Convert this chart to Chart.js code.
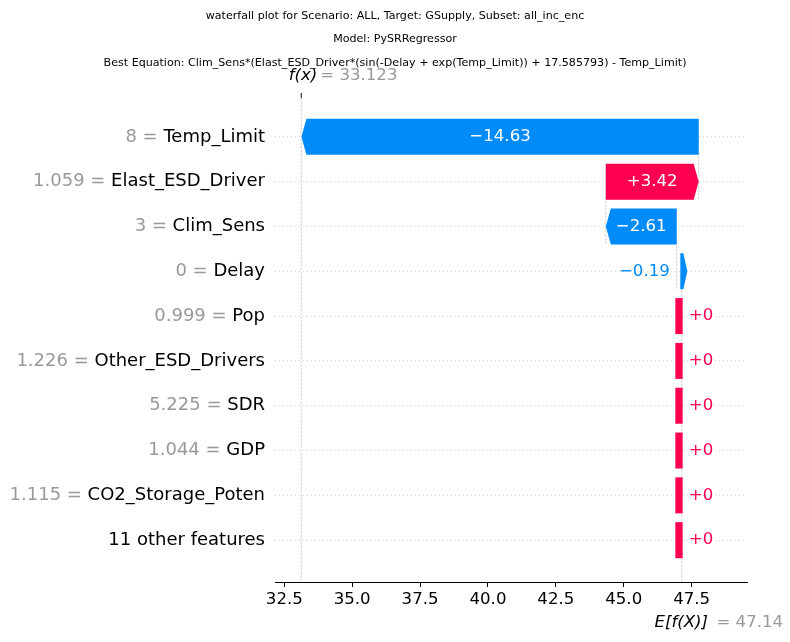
<!DOCTYPE html>
<html>
<head>
<meta charset="utf-8">
<script src="https://cdn.jsdelivr.net/npm/chart.js@4.4.1/dist/chart.umd.min.js"></script>
<style>
  html, body { margin: 0; padding: 0; background: #fff; }
  #wrap { width: 790px; height: 642px; }
</style>
</head>
<body>
<div id="wrap"><canvas id="chart" width="790" height="642"></canvas></div>
<script>
// waterfall rows, top row first
const features = ['Temp_Limit', 'Elast_ESD_Driver', 'Clim_Sens', 'Delay', 'Pop',
  'Other_ESD_Drivers', 'SDR', 'GDP', 'CO2_Storage_Poten', '11 other features'];
const featureValues = ['8', '1.059', '3', '0', '0.999', '1.226', '5.225', '1.044', '1.115', ''];
const shapValues = [-14.63, 3.42, -2.61, -0.19, 0, 0, 0, 0, 0, 0];
const baseValue = 47.14;
const fxValue = 33.123;
const xTicks = [32.5, 35.0, 37.5, 40.0, 42.5, 45.0, 47.5];
const titleLines = [
  'waterfall plot for Scenario: ALL, Target: GSupply, Subset: all_inc_enc',
  'Model: PySRRegressor',
  'Best Equation: Clim_Sens*(Elast_ESD_Driver*(sin(-Delay + exp(Temp_Limit)) + 17.585793) - Temp_Limit)'
];

const RED = '#ff0051';
const BLUE = '#008bfb';
const GRAY = '#999999';
const FONT = '"DejaVu Sans", sans-serif';
const nRows = features.length;
const HEAD = 5;

// floating bars, built upward from the base value
const bars = [];
let loc = baseValue;
for (let i = nRows - 1; i >= 0; i--) {
  bars[i] = { x: [loc, loc + shapValues[i]], y: nRows - 1 - i };
  loc += shapValues[i];
}

function fmtShap(v) {
  const s = Math.abs(v).toFixed(2).replace(/\.?0+$/, '');
  return (v < 0 ? '\u2212' : '+') + s;
}

function vline(ctx, px, y0, y1) {
  ctx.beginPath();
  ctx.moveTo(px, y0);
  ctx.lineTo(px, y1);
  ctx.stroke();
}

const waterfallPlugin = {
  id: 'waterfall',
  beforeDatasetsDraw(chart) {
    const { ctx, chartArea, scales: { x, y } } = chart;
    ctx.save();
    ctx.strokeStyle = '#bbbbbb';
    ctx.lineWidth = 0.7;
    ctx.setLineDash([2.5, 1.2]);
    vline(ctx, x.getPixelForValue(fxValue), chartArea.top, chartArea.bottom);
    vline(ctx, x.getPixelForValue(baseValue), chartArea.bottom, chartArea.bottom - chartArea.height / nRows);
    for (let i = 0; i < nRows - 1; i++) {
      const row = nRows - 1 - i;
      vline(ctx, x.getPixelForValue(bars[i].x[0]), y.getPixelForValue(row + 0.4), y.getPixelForValue(row - 1.4));
    }
    ctx.restore();
  },
  afterDatasetsDraw(chart) {
    const { ctx } = chart;
    const meta = chart.getDatasetMeta(0);
    ctx.save();
    meta.data.forEach((bar, i) => {
      const v = shapValues[i];
      const color = v >= 0 ? RED : BLUE;
      const top = bar.y - bar.height / 2;
      const bot = bar.y + bar.height / 2;
      const mid = bar.y;
      const left = Math.min(bar.base, bar.x);
      const right = Math.max(bar.base, bar.x);
      const len = right - left;
      ctx.fillStyle = color;
      ctx.beginPath();
      if (len < 1) {
        ctx.rect(right - 6.5, top, 7.3, bar.height);
      } else if (len < HEAD * 2) {
        const L = right - 1.5;
        ctx.moveTo(L, top); ctx.lineTo(L + 3, top); ctx.lineTo(L + 7, mid);
        ctx.lineTo(L + 3, bot); ctx.lineTo(L, bot);
      } else if (v < 0) {
        ctx.moveTo(right, top); ctx.lineTo(left + HEAD, top); ctx.lineTo(left, mid);
        ctx.lineTo(left + HEAD, bot); ctx.lineTo(right, bot);
      } else {
        ctx.moveTo(left, top); ctx.lineTo(right - HEAD, top); ctx.lineTo(right, mid);
        ctx.lineTo(right - HEAD, bot); ctx.lineTo(left, bot);
      }
      ctx.closePath();
      ctx.fill();

      // value text
      const txt = fmtShap(v);
      ctx.font = '16.6px ' + FONT;
      ctx.textBaseline = 'middle';
      const tw = ctx.measureText(txt).width;
      if (tw + 12 < len) {
        ctx.fillStyle = '#ffffff';
        ctx.textAlign = 'center';
        ctx.fillText(txt, (left + right) / 2, mid);
      } else {
        ctx.fillStyle = color;
        if (v >= 0) {
          ctx.textAlign = 'left';
          ctx.fillText(txt, right + 6.9, mid);
        } else {
          ctx.textAlign = 'right';
          ctx.fillText(txt, left - 6.9, mid);
        }
      }
    });
    ctx.restore();
  },
  afterDraw(chart) {
    const { ctx, chartArea, scales: { x, y } } = chart;
    ctx.save();
    // gray feature values in front of the names
    ctx.font = '18px ' + FONT;
    ctx.textBaseline = 'middle';
    ctx.textAlign = 'right';
    ctx.fillStyle = GRAY;
    const labelRight = chartArea.left - 10;
    features.forEach((name, i) => {
      if (!featureValues[i]) return;
      const nw = ctx.measureText(name).width;
      ctx.fillText(featureValues[i] + ' = ', labelRight - nw, y.getPixelForValue(nRows - 1 - i));
    });

    // top tick at f(x)
    const fxPx = x.getPixelForValue(fxValue);
    ctx.strokeStyle = '#000';
    ctx.lineWidth = 1;
    vline(ctx, fxPx, chartArea.top - 5, chartArea.top);

    ctx.textAlign = 'left';
    ctx.font = 'italic 16.6px ' + FONT;
    ctx.fillStyle = '#000';
    ctx.fillText('f(x)', fxPx - 12.5, 75.5);
    ctx.font = '16.6px ' + FONT;
    ctx.fillStyle = GRAY;
    ctx.fillText('= ' + fxValue.toFixed(3), fxPx + 19, 75.5);

    const basePx = x.getPixelForValue(baseValue);
    ctx.font = 'italic 16.6px ' + FONT;
    ctx.fillStyle = '#000';
    ctx.fillText('E[f(X)]', basePx - 27.4, 622.7);
    ctx.font = '16.6px ' + FONT;
    ctx.fillStyle = GRAY;
    ctx.fillText('= ' + baseValue.toFixed(2), basePx + 34.6, 622.7);
    ctx.restore();
  }
};

new Chart(document.getElementById('chart'), {
  type: 'bar',
  data: {
    datasets: [{
      data: bars,
      backgroundColor: 'rgba(0,0,0,0)',
      borderWidth: 0,
      barThickness: 36
    }]
  },
  options: {
    indexAxis: 'y',
    responsive: false,
    animation: false,
    devicePixelRatio: 1,
    layout: { padding: 0 },
    scales: {
      x: {
        type: 'linear',
        min: 32.157,
        max: 49.54,
        afterBuildTicks: s => { s.ticks = xTicks.map(v => ({ value: v })); },
        afterFit: s => { s.height = 60; },
        ticks: {
          callback: v => v.toFixed(1),
          color: '#000',
          font: { family: FONT, size: 16.6 },
          padding: 3,
          maxRotation: 0
        },
        grid: { display: true, drawOnChartArea: false, drawTicks: true, tickLength: 5, color: '#000', lineWidth: 1 },
        border: { display: true, color: '#000', width: 1 }
      },
      y: {
        type: 'linear',
        offset: false,
        min: -0.933,
        max: 9.867,
        afterBuildTicks: s => { s.ticks = features.map((f, i) => ({ value: nRows - 1 - i })); },
        afterFit: s => { s.width = 275; },
        ticks: {
          callback: v => features[nRows - 1 - v],
          color: '#000',
          font: { family: FONT, size: 18 },
          padding: 10
        },
        grid: { offset: false, color: '#cccccc', lineWidth: 0.8, drawTicks: false },
        border: { display: false, dash: [1, 3] }
      },
      // empty right-hand axis, only keeps the right margin free
      yRight: {
        type: 'linear',
        position: 'right',
        afterFit: s => { s.width = 43; },
        ticks: { display: false },
        grid: { display: false },
        border: { display: false }
      }
    },
    plugins: {
      legend: { display: false },
      tooltip: { enabled: false },
      title: {
        display: true,
        text: titleLines,
        color: '#000',
        font: { family: FONT, size: 11.1, weight: 'normal', lineHeight: 2.117 },
        padding: { top: 4, bottom: 23.5 }
      }
    }
  },
  plugins: [waterfallPlugin]
});
</script>
</body>
</html>
